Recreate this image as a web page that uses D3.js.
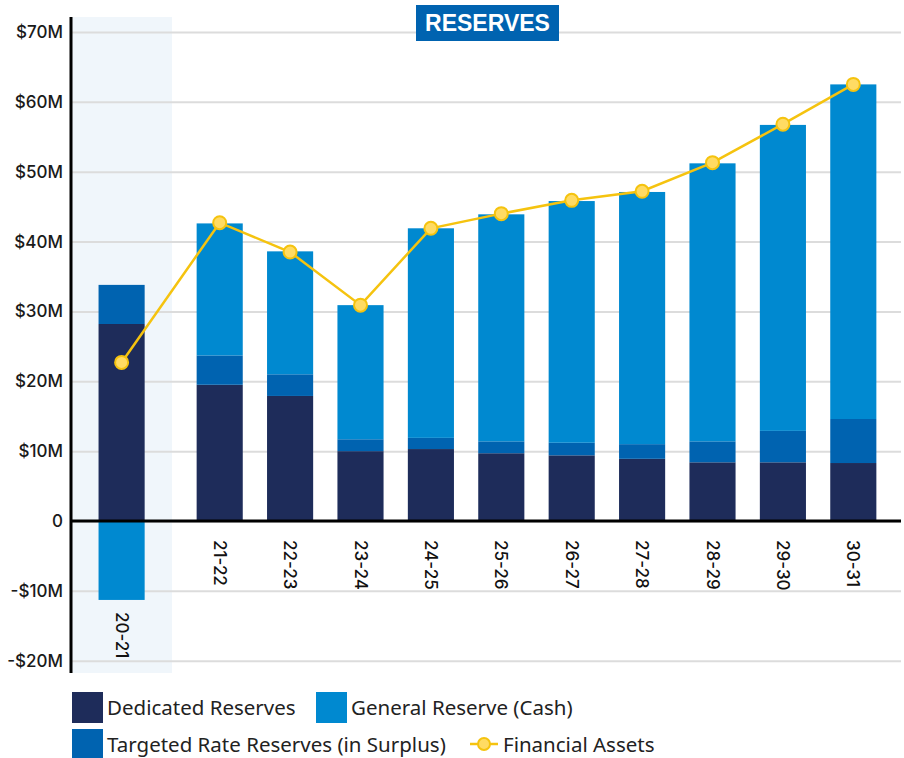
<!DOCTYPE html>
<html>
<head>
<meta charset="utf-8">
<script src="https://cdn.jsdelivr.net/npm/d3@7"></script>
<style>
  body { margin: 0; background: #fff; }
  svg { display: block; }
</style>
</head>
<body>
<svg id="reserves"></svg>
<script>
// chart data ($M)
const years = ["20-21", "21-22", "22-23", "23-24", "24-25", "25-26", "26-27", "27-28", "28-29", "29-30", "30-31"];
const dedicated = [28.2, 19.5, 17.9, 10.0, 10.3, 9.7, 9.4, 8.9, 8.4, 8.4, 8.3];
const targeted = [5.6, 4.2, 3.1, 1.7, 1.6, 1.7, 1.8, 2.1, 3.0, 4.5, 6.3];
const general = [-11.3, 18.9, 17.6, 19.2, 30.0, 32.5, 34.6, 36.1, 39.8, 43.8, 47.9];
const financialAssets = [22.7, 42.7, 38.5, 30.9, 41.9, 44.0, 45.9, 47.2, 51.3, 56.8, 62.5];
const yTicks = [-20, -10, 0, 10, 20, 30, 40, 50, 60, 70];

const width = 904;
const height = 758;
const marginLeft = 71;
const marginRight = 3;
const plotTop = 17;
const plotBottom = 673;

const colors = {
    dedicated: "#1e2c5a",
    targeted: "#0063b0",
    general: "#0089d0",
    line: "#f5c30f",
    marker: "#ffdb63"
};

const svg = d3.select("#reserves")
    .attr("width", width)
    .attr("height", height)
    .attr("viewBox", [0, 0, width, height]);

// y scale
const y = d3.scaleLinear()
    .domain([0, 70])
    .range([521, 32]);

// actual year sits in its own shaded column, forecasts share one band scale
const xActual = d3.scaleBand()
    .domain(years.slice(0, 1))
    .range([marginLeft, 172])
    .paddingOuter(0.6);

const xForecast = d3.scaleBand()
    .domain(years.slice(1))
    .range([172, width - marginRight])
    .paddingInner(0.345)
    .paddingOuter(0.35);

const xPos = d => d === years[0] ? xActual(d) : xForecast(d);
const bw = xForecast.bandwidth();
const xMid = d => xPos(d) + bw / 2;

// shaded actual column
svg.append("rect")
    .attr("x", marginLeft)
    .attr("y", plotTop)
    .attr("width", 172 - marginLeft)
    .attr("height", plotBottom - plotTop)
    .attr("fill", "#f0f6fb");

// gridlines + y labels
svg.append("g")
    .attr("transform", `translate(${marginLeft},0)`)
    .call(d3.axisLeft(y)
        .tickValues(yTicks)
        .tickSize(-(width - marginRight - marginLeft))
        .tickPadding(8)
        .tickFormat(d => d === 0 ? "0" : (d < 0 ? "-$" : "$") + Math.abs(d) + "M"))
    .call(g => g.select(".domain").remove())
    .call(g => g.selectAll(".tick line").attr("stroke", "#dcdcdc").attr("stroke-width", 2))
    .call(g => g.selectAll(".tick text")
        .attr("font-family", "Inter, sans-serif")
        .attr("font-size", 17)
        .attr("font-weight", 500)
        .attr("fill", "#1a1a1a")
        .attr("x", -8));

// build stacked segments
const segments = [];
years.forEach((yr, i) => {
    segments.push({ yr, y0: 0, y1: dedicated[i], c: colors.dedicated });
    segments.push({ yr, y0: dedicated[i], y1: dedicated[i] + targeted[i], c: colors.targeted });
    if (general[i] < 0) {
        segments.push({ yr, y0: general[i], y1: 0, c: colors.general });
    } else {
        const base = dedicated[i] + targeted[i];
        segments.push({ yr, y0: base, y1: base + general[i], c: colors.general });
    }
});

svg.append("g")
    .selectAll("rect")
    .data(segments)
    .join("rect")
    .attr("x", d => xPos(d.yr))
    .attr("width", bw)
    .attr("y", d => y(d.y1))
    .attr("height", d => y(d.y0) - y(d.y1))
    .attr("fill", d => d.c);

// axis lines
svg.append("line")
    .attr("x1", marginLeft).attr("x2", marginLeft)
    .attr("y1", plotTop).attr("y2", plotBottom)
    .attr("stroke", "#000").attr("stroke-width", 3);

svg.append("line")
    .attr("x1", marginLeft).attr("x2", width - marginRight)
    .attr("y1", y(0)).attr("y2", y(0))
    .attr("stroke", "#000").attr("stroke-width", 3);

// x labels, rotated
svg.append("g")
    .selectAll("text")
    .data(years)
    .join("text")
    .attr("transform", (d, i) => {
        const low = Math.min(0, general[i]);
        return `translate(${xMid(d)},${y(low) + (low < 0 ? 12 : 19)}) rotate(90)`;
    })
    .attr("dy", "0.35em")
    .attr("font-family", "Inter, sans-serif")
    .attr("font-size", 17)
    .attr("font-weight", 500)
    .attr("fill", "#111")
    .text(d => d);

// financial assets line
const line = d3.line()
    .x((d, i) => xMid(years[i]))
    .y(d => y(d));

svg.append("path")
    .datum(financialAssets)
    .attr("fill", "none")
    .attr("stroke", colors.line)
    .attr("stroke-width", 2.5)
    .attr("d", line);

svg.append("g")
    .selectAll("circle")
    .data(financialAssets)
    .join("circle")
    .attr("cx", (d, i) => xMid(years[i]))
    .attr("cy", d => y(d))
    .attr("r", 6.5)
    .attr("fill", colors.marker)
    .attr("stroke", colors.line)
    .attr("stroke-width", 2);

// title
svg.append("rect")
    .attr("x", 416).attr("y", 5)
    .attr("width", 143).attr("height", 36)
    .attr("fill", colors.targeted);

svg.append("text")
    .attr("x", 487.5).attr("y", 23)
    .attr("dy", "0.36em")
    .attr("text-anchor", "middle")
    .attr("font-family", "'Liberation Sans', Arial, sans-serif")
    .attr("font-weight", 700)
    .attr("font-size", 23)
    .attr("fill", "#fff")
    .text("RESERVES");

// legend
const legendItems = [
    { label: "Dedicated Reserves", c: colors.dedicated, x: 72, y: 692, type: "box" },
    { label: "General Reserve (Cash)", c: colors.general, x: 316, y: 692, type: "box" },
    { label: "Targeted Rate Reserves (in Surplus)", c: colors.targeted, x: 72, y: 729, type: "box" },
    { label: "Financial Assets", c: colors.line, x: 470, y: 729, type: "line" }
];

const legend = svg.append("g")
    .selectAll("g")
    .data(legendItems)
    .join("g")
    .attr("transform", d => `translate(${d.x},${d.y})`);

legend.filter(d => d.type === "box")
    .append("rect")
    .attr("width", 31).attr("height", 31)
    .attr("fill", d => d.c);

legend.filter(d => d.type === "line")
    .append("line")
    .attr("x1", 0).attr("x2", 28)
    .attr("y1", 15).attr("y2", 15)
    .attr("stroke", colors.line).attr("stroke-width", 2.5);

legend.filter(d => d.type === "line")
    .append("circle")
    .attr("cx", 14).attr("cy", 15).attr("r", 6)
    .attr("fill", colors.marker)
    .attr("stroke", colors.line)
    .attr("stroke-width", 2);

legend.append("text")
    .attr("x", d => d.type === "box" ? 35 : 33)
    .attr("y", 16)
    .attr("dy", "0.35em")
    .attr("font-family", "'Noto Sans', sans-serif")
    .attr("font-size", 20.5)
    .attr("fill", "#222")
    .text(d => d.label);
</script>
</body>
</html>
